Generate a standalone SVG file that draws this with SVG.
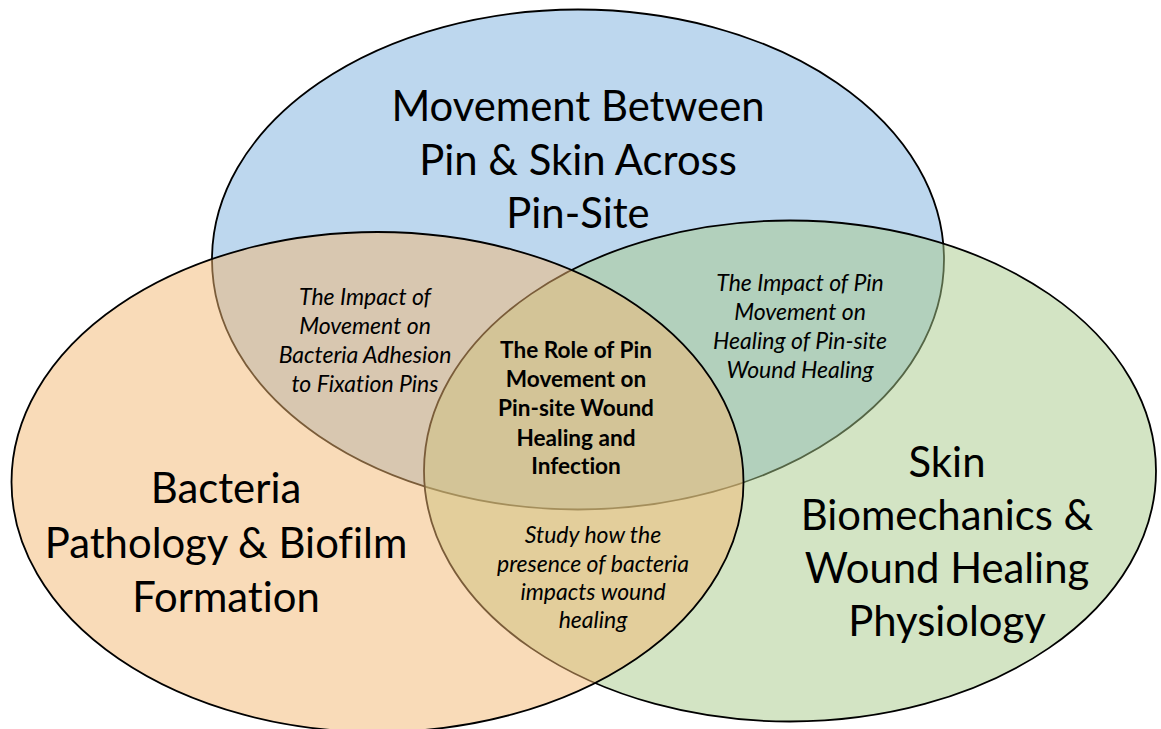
<svg xmlns="http://www.w3.org/2000/svg" width="1161" height="729" viewBox="0 0 1161 729">
  <style>
    text { font-family: Lato, "Open Sans", "Liberation Sans", sans-serif; fill: #000; text-anchor: middle; font-variant-ligatures: none; font-feature-settings: "liga" 0, "dlig" 0; }
    .set { stroke: #000; stroke-width: 1.8; fill-opacity: 0.5; }
    .big { font-size: 41.8px; }
    .small { font-size: 23px; font-style: italic; }
    .core { font-size: 22.6px; font-weight: bold; }
  </style>
  <rect width="1161" height="729" fill="#fff"/>
  <g id="set-movement">
    <ellipse class="set" cx="578" cy="259.5" rx="366" ry="250" fill="#7BAFDD"/>
  </g>
  <g id="set-skin">
    <ellipse class="set" cx="790" cy="471" rx="366" ry="250.5" fill="#A7C989"/>
  </g>
  <g id="set-bacteria">
    <ellipse class="set" cx="377.5" cy="482" rx="366" ry="250" fill="#F3B771"/>
  </g>
  <g id="label-movement">
    <text class="big" x="578" y="121">Movement Between</text>
    <text class="big" x="578" y="174.5">Pin &amp; Skin Across</text>
    <text class="big" x="578" y="228">Pin-Site</text>
  </g>
  <g id="label-bacteria">
    <text class="big" x="226" y="503">Bacteria</text>
    <text class="big" x="226" y="557.5">Pathology &amp; Biofilm</text>
    <text class="big" x="226" y="612">Formation</text>
  </g>
  <g id="label-skin">
    <text class="big" x="947" y="477">Skin</text>
    <text class="big" x="947" y="530">Biomechanics &amp;</text>
    <text class="big" x="947" y="583">Wound Healing</text>
    <text class="big" x="947" y="636">Physiology</text>
  </g>
  <g id="overlap-movement-bacteria">
    <text class="small" x="365" y="305">The Impact of</text>
    <text class="small" x="365" y="334">Movement on</text>
    <text class="small" x="365" y="363">Bacteria Adhesion</text>
    <text class="small" x="365" y="392">to Fixation Pins</text>
  </g>
  <g id="overlap-movement-skin">
    <text class="small" x="800" y="291">The Impact of Pin</text>
    <text class="small" x="800" y="320">Movement on</text>
    <text class="small" x="800" y="349">Healing of Pin-site</text>
    <text class="small" x="800" y="378">Wound Healing</text>
  </g>
  <g id="overlap-all">
    <text class="core" x="576" y="358">The Role of Pin</text>
    <text class="core" x="576" y="387">Movement on</text>
    <text class="core" x="576" y="416">Pin-site Wound</text>
    <text class="core" x="576" y="445.5">Healing and</text>
    <text class="core" x="576" y="474">Infection</text>
  </g>
  <g id="overlap-bacteria-skin">
    <text class="small" x="593" y="543">Study how the</text>
    <text class="small" x="593" y="572">presence of bacteria</text>
    <text class="small" x="593" y="600">impacts wound</text>
    <text class="small" x="593" y="628">healing</text>
  </g>
  <g id="connectors"/>
</svg>
